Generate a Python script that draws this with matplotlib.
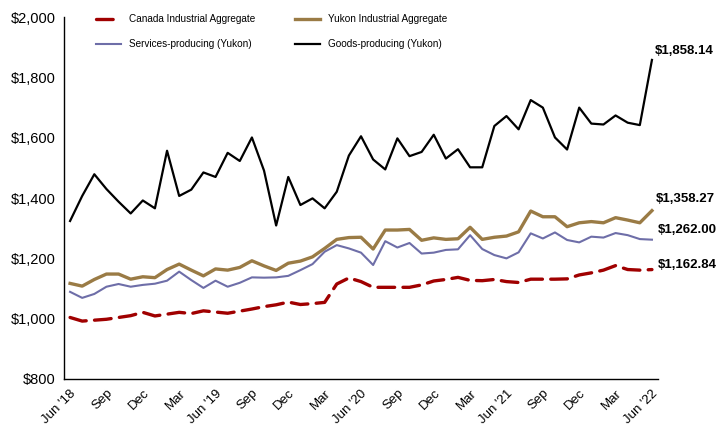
import matplotlib
matplotlib.use('Agg')
import matplotlib.pyplot as plt

plt.rcParams['font.family'] = ['Liberation Sans', 'DejaVu Sans']

# monthly values, Jun 2018 .. Jun 2022
canada = [1004, 992, 995, 998, 1004, 1010, 1021, 1009, 1015, 1021, 1017, 1026,
          1022, 1018, 1025, 1032, 1040, 1046, 1055, 1047, 1050, 1054, 1115, 1135,
          1123, 1104, 1104, 1104, 1104, 1112, 1125, 1130, 1137, 1127, 1126, 1130,
          1123, 1120, 1131, 1131, 1131, 1132, 1145, 1152, 1161, 1176, 1163, 1161,
          1162.84]
yukon = [1117, 1108, 1130, 1148, 1148, 1131, 1139, 1136, 1163, 1181, 1161, 1142,
         1165, 1161, 1170, 1192, 1175, 1160, 1184, 1191, 1205, 1233, 1263, 1269,
         1270, 1231, 1294, 1294, 1296, 1260, 1268, 1263, 1265, 1303, 1263, 1270,
         1274, 1288, 1357, 1338, 1338, 1305, 1318, 1322, 1318, 1335, 1327, 1318,
         1358.27]
services = [1089, 1069, 1082, 1106, 1115, 1106, 1112, 1116, 1126, 1156, 1128, 1102,
            1126, 1106, 1119, 1137, 1136, 1137, 1142, 1161, 1181, 1222, 1244, 1233,
            1219, 1178, 1257, 1236, 1251, 1216, 1219, 1228, 1230, 1277, 1231, 1211,
            1200, 1220, 1283, 1266, 1286, 1261, 1253, 1272, 1269, 1284, 1277, 1264,
            1262.00]
goods = [1324, 1407, 1479, 1430, 1388, 1349, 1392, 1366, 1557, 1407, 1428, 1485,
         1470, 1550, 1523, 1601, 1491, 1309, 1470, 1377, 1399, 1366, 1421, 1541,
         1605, 1528, 1495, 1598, 1539, 1553, 1610, 1531, 1562, 1502, 1502, 1639,
         1672, 1628, 1725, 1700, 1601, 1561, 1700, 1647, 1644, 1674, 1650, 1642,
         1858.14]
tick_labels = ["Jun '18", "Sep", "Dec", "Mar", "Jun '19", "Sep", "Dec", "Mar",
               "Jun '20", "Sep", "Dec", "Mar", "Jun '21", "Sep", "Dec", "Mar", "Jun '22"]

x = list(range(len(goods)))

fig = plt.figure(figsize=(7.16, 4.29), dpi=100)
ax = fig.add_axes([0.0894, 0.1166, 0.8296, 0.8434])

l_can, = ax.plot(x, canada, color='#A00000', lw=2.4, dashes=(5, 2.5),
                 dash_capstyle='round', label='Canada Industrial Aggregate')
l_yuk, = ax.plot(x, yukon, color='#9A7B45', lw=2.4, label='Yukon Industrial Aggregate')
l_srv, = ax.plot(x, services, color='#6E6EA8', lw=1.5, label='Services-producing (Yukon)')
l_gds, = ax.plot(x, goods, color='black', lw=1.6, label='Goods-producing (Yukon)')

# end-of-series labels
lab = dict(textcoords='offset points', fontsize=9.5, fontweight='bold')
ax.annotate(f'${goods[-1]:,.2f}', (x[-1], goods[-1]), xytext=(2, 4), **lab)
ax.annotate(f'${yukon[-1]:,.2f}', (x[-1], yukon[-1]), xytext=(3, 6), **lab)
ax.annotate(f'${services[-1]:,.2f}', (x[-1], services[-1]), xytext=(4, 5), **lab)
ax.annotate(f'${canada[-1]:,.2f}', (x[-1], canada[-1]), xytext=(4, 1), **lab)

ax.set_xlim(-0.5, len(x) - 0.5)
ax.set_ylim(800, 2000)
ax.set_yticks(range(800, 2001, 200))
ax.set_yticklabels([f'${v:,}' for v in range(800, 2001, 200)], fontsize=10.5)
ax.set_xticks(x[::3])
ax.set_xticklabels(tick_labels, rotation=45, ha='right', rotation_mode='anchor',
                   fontsize=9.5)
ax.tick_params(length=0, pad=6)
ax.tick_params(axis='x', pad=6)
for s in ['top', 'right']:
    ax.spines[s].set_visible(False)
for s in ['left', 'bottom']:
    ax.spines[s].set_linewidth(1)

# legend filled column-wise, so order gives rows Canada/Yukon, Services/Goods
ax.legend([l_can, l_srv, l_yuk, l_gds],
          [l.get_label() for l in (l_can, l_srv, l_yuk, l_gds)],
          ncol=2, loc='upper left', bbox_to_anchor=(0.128, 0.976),
          bbox_transform=fig.transFigure, borderaxespad=0,
          frameon=False, fontsize=7.2, handlelength=2.5,
          handletextpad=0.8, columnspacing=4.0, labelspacing=1.5)

fig.savefig('out.png', dpi=100)
